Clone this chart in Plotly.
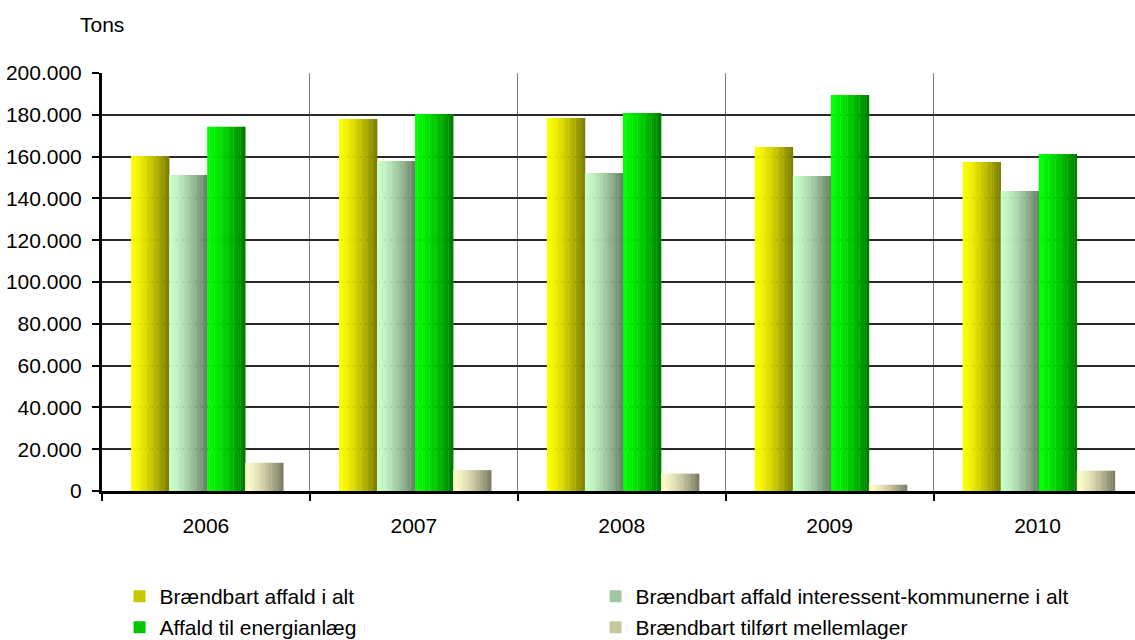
import plotly.graph_objects as go

years = ["2006", "2007", "2008", "2009", "2010"]
series_names = [
    "Brændbart affald i alt",
    "Brændbart affald interessent-kommunerne i alt",
    "Affald til energianlæg",
    "Brændbart tilført mellemlager",
]
total_burnable = [160300, 178000, 178500, 164600, 157400]
municipalities = [151200, 157900, 152200, 150700, 143500]
energy_plant = [174300, 180400, 180900, 189500, 161200]
intermediate_storage = [13500, 10000, 8300, 3000, 9700]
values = [total_burnable, municipalities, energy_plant, intermediate_storage]

# gradient colour pairs (left -> right)
grads = [
    ((255, 255, 0), (120, 120, 0)),
    ((204, 255, 204), (100, 124, 100)),
    ((0, 255, 0), (0, 120, 0)),
    ((255, 255, 204), (120, 120, 96)),
]
legend_rows = ["legend", "legend", "legend2", "legend2"]

FONT = "Liberation Sans, Arial, sans-serif"
FS = 21
N = 16
w = 0.183
start = -0.36


def mix(c0, c1, t):
    t = t ** 1.4
    return "rgb(%d,%d,%d)" % tuple(round(a + (b - a) * t) for a, b in zip(c0, c1))


fig = go.Figure()
for i, (name, vals) in enumerate(zip(series_names, values)):
    c0, c1 = grads[i]
    for k in range(N):
        fig.add_trace(go.Bar(
            x=years, y=vals, name=name, legendgroup=name,
            legend=legend_rows[i],
            showlegend=(k == N // 2),
            offset=start + i * w + k * w / N,
            width=w / N + 0.0015,
            marker=dict(color=mix(c0, c1, (k + 0.5) / N), line=dict(width=0)),
            hoverinfo="skip",
        ))

fig.add_annotation(text="Tons", xref="paper", yref="paper",
                   x=-0.023, y=1.115, xanchor="left", yanchor="middle",
                   showarrow=False, font=dict(family=FONT, size=FS, color="#000"))

legend_common = dict(
    orientation="h", x=0.017, xanchor="left", yanchor="top",
    entrywidth=431, entrywidthmode="pixels",
    font=dict(family=FONT, size=FS, color="#000"),
    itemwidth=30, bgcolor="rgba(0,0,0,0)",
)

fig.update_layout(
    width=1135, height=640,
    margin=dict(l=102, r=0, t=73, b=149, autoexpand=False),
    paper_bgcolor="white", plot_bgcolor="white",
    barmode="overlay",
    separators=",.",
    hovermode=False,
    font=dict(family=FONT, size=FS, color="#000"),
    xaxis=dict(
        type="category", range=[-0.5, 4.469],
        tickson="boundaries", ticks="outside", ticklen=7, tickwidth=2, tickcolor="#000",
        showgrid=True, gridcolor="#808080", gridwidth=1,
        showline=True, linecolor="#000", linewidth=3,
        ticklabelstandoff=14,
        tickfont=dict(family=FONT, size=FS, color="#000"),
    ),
    yaxis=dict(
        range=[0, 200000], dtick=20000, tickformat=",d",
        ticks="outside", ticklen=7, tickwidth=2, tickcolor="#000",
        showgrid=True, gridcolor="#2a2a2a", gridwidth=1.8,
        showline=True, linecolor="#000", linewidth=3,
        zeroline=False, ticklabelstandoff=6,
        tickfont=dict(family=FONT, size=FS, color="#000"),
    ),
    legend=dict(legend_common, y=-0.2033),
    legend2=dict(legend_common, y=-0.2775),
)

fig.write_html(
    "out.html",
    config={"displayModeBar": False},
    post_script="document.body.style.margin='0';document.body.style.overflow='hidden';",
)
